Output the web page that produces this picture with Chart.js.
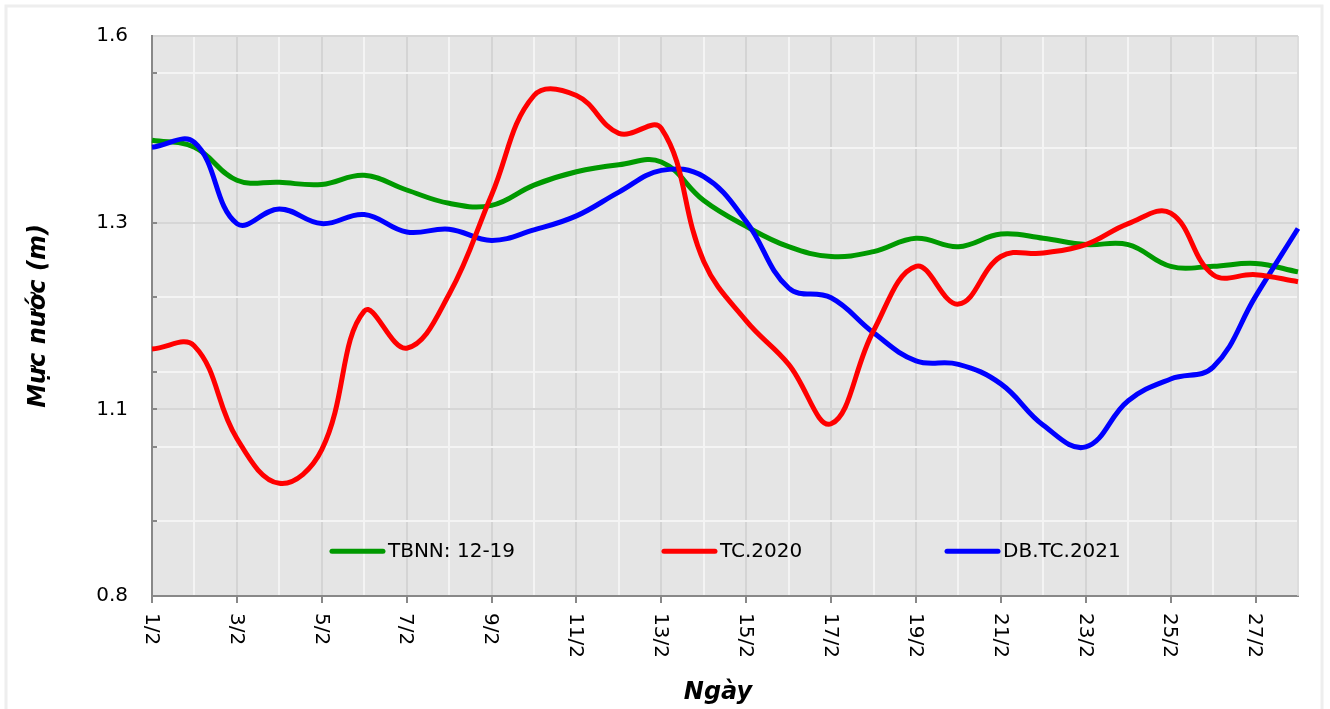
<!DOCTYPE html>
<html lang="vi">
<head>
<meta charset="utf-8">
<title>Mực nước</title>
<script src="https://cdn.jsdelivr.net/npm/chart.js@4.4.1/dist/chart.umd.min.js"></script>
<style>
    html, body { margin: 0; padding: 0; background: #fff; }
    #wrap { width: 1330px; height: 709px; }
</style>
</head>
<body>
<div id="wrap"><canvas id="waterChart" width="1330" height="709"></canvas></div>
<script>
const days = ['1/2', '2/2', '3/2', '4/2', '5/2', '6/2', '7/2', '8/2', '9/2', '10/2',
    '11/2', '12/2', '13/2', '14/2', '15/2', '16/2', '17/2', '18/2', '19/2', '20/2',
    '21/2', '22/2', '23/2', '24/2', '25/2', '26/2', '27/2', '28/2'];

const tbnn = [1.451, 1.441, 1.394, 1.391, 1.388, 1.401, 1.380, 1.361, 1.358, 1.387,
    1.406, 1.416, 1.420, 1.365, 1.328, 1.299, 1.285, 1.292, 1.311, 1.299,
    1.317, 1.311, 1.302, 1.302, 1.271, 1.271, 1.275, 1.263];

const tc2020 = [1.153, 1.157, 1.025, 0.961, 1.009, 1.207, 1.154, 1.231, 1.373, 1.515,
    1.515, 1.461, 1.468, 1.278, 1.193, 1.131, 1.046, 1.179, 1.271, 1.217,
    1.285, 1.290, 1.302, 1.332, 1.347, 1.259, 1.259, 1.249];

const dbtc2021 = [1.441, 1.448, 1.332, 1.353, 1.332, 1.345, 1.320, 1.324, 1.308, 1.323,
    1.343, 1.377, 1.408, 1.399, 1.335, 1.240, 1.226, 1.176, 1.136, 1.131,
    1.103, 1.044, 1.013, 1.079, 1.110, 1.127, 1.228, 1.325];

const seriesNames = ['TBNN: 12-19', 'TC.2020', 'DB.TC.2021'];
const seriesColors = ['#009900', '#ff0000', '#0000ff'];

// labelled y ticks and the lighter in-between grid steps
const yTickValues = [0.8, 1.0667, 1.3333, 1.6];
const yTickLabels = ['0.8', '1.1', '1.3', '1.6'];
const yMinorValues = [0.9067, 1.0133, 1.12, 1.2267, 1.44, 1.5467];

const FONT = "'DejaVu Sans', Verdana, sans-serif";

function isMajorY(v) {
    return yTickValues.some(t => Math.abs(t - v) < 1e-6);
}

const decorations = {
    id: 'decorations',
    beforeDraw(chart) {
        const ctx = chart.ctx;
        const a = chart.chartArea;
        ctx.save();
        ctx.strokeStyle = '#eeeeee';
        ctx.lineWidth = 3;
        ctx.strokeRect(6, 6, 1316, 712);
        ctx.fillStyle = '#e5e5e5';
        ctx.fillRect(a.left, a.top, a.right - a.left, a.bottom - a.top);
        ctx.restore();
    },
    beforeDatasetsDraw(chart) {
        const ctx = chart.ctx;
        const a = chart.chartArea;
        const y = chart.scales.y;
        ctx.save();
        // right edge of the plot
        ctx.strokeStyle = '#d6d6d6';
        ctx.lineWidth = 1.5;
        ctx.beginPath();
        ctx.moveTo(a.right, a.top);
        ctx.lineTo(a.right, a.bottom);
        ctx.stroke();
        // short marks on the inside of the y axis
        ctx.strokeStyle = '#888888';
        ctx.lineWidth = 2;
        yMinorValues.concat(yTickValues.slice(1, -1)).forEach(v => {
            const py = Math.round(y.getPixelForValue(v));
            ctx.beginPath();
            ctx.moveTo(a.left, py);
            ctx.lineTo(a.left + 5, py);
            ctx.stroke();
        });
        ctx.restore();
    },
    afterDraw(chart) {
        const ctx = chart.ctx;
        const a = chart.chartArea;
        const x = chart.scales.x;
        ctx.save();
        ctx.fillStyle = '#000';

        // day labels, turned to read downwards
        ctx.font = '20px ' + FONT;
        ctx.textAlign = 'left';
        ctx.textBaseline = 'middle';
        days.forEach((d, i) => {
            if (i % 2 !== 0) return;
            const px = x.getPixelForTick(i);
            ctx.save();
            ctx.translate(px, a.bottom + 17);
            ctx.rotate(Math.PI / 2);
            ctx.fillText(d, 0, 1);
            ctx.restore();
        });

        // axis titles
        ctx.font = 'italic bold 24px ' + FONT;
        ctx.textAlign = 'center';
        ctx.textBaseline = 'middle';
        ctx.fillText('Ngày', (a.left + a.right) / 2 - 7, 693);
        ctx.save();
        ctx.translate(39, (a.top + a.bottom) / 2);
        ctx.rotate(-Math.PI / 2);
        ctx.fillText('Mực nước (m)', 0, 0);
        ctx.restore();

        // legend inside the plot
        const w = a.right - a.left;
        const ly = a.top + (a.bottom - a.top) * 0.92;
        const starts = [0.1553, 0.445, 0.692];
        ctx.font = '20px ' + FONT;
        ctx.textAlign = 'left';
        ctx.lineCap = 'round';
        ctx.lineWidth = 5;
        seriesNames.forEach((name, i) => {
            const lx = a.left + w * starts[i];
            ctx.strokeStyle = seriesColors[i];
            ctx.beginPath();
            ctx.moveTo(lx + 2, ly);
            ctx.lineTo(lx + 53, ly);
            ctx.stroke();
            ctx.fillText(name, lx + 58, ly + 1);
        });
        ctx.restore();
    }
};

const chart = new Chart(document.getElementById('waterChart'), {
    type: 'line',
    data: {
        labels: days,
        datasets: [
            { label: seriesNames[0], data: tbnn, borderColor: seriesColors[0], order: 2 },
            { label: seriesNames[1], data: tc2020, borderColor: seriesColors[1], order: 0 },
            { label: seriesNames[2], data: dbtc2021, borderColor: seriesColors[2], order: 1 }
        ]
    },
    options: {
        responsive: false,
        animation: false,
        devicePixelRatio: 1,
        layout: { padding: { top: 33, right: 32, left: 0, bottom: 0 } },
        elements: {
            line: { borderWidth: 5, tension: 0.4, fill: false, capBezierPoints: true },
            point: { radius: 0, hoverRadius: 0 }
        },
        plugins: {
            legend: { display: false },
            tooltip: { enabled: false },
            title: { display: false }
        },
        scales: {
            x: {
                offset: false,
                afterFit(scale) { scale.height = 113; },
                ticks: { display: false },
                grid: {
                    color: ctx => ctx.index % 2 === 0 ? '#d4d4d4' : '#f4f4f4',
                    lineWidth: 2,
                    drawTicks: true,
                    tickLength: 7,
                    tickWidth: 2,
                    tickColor: ctx => ctx.index % 2 === 0 ? '#888888' : 'rgba(0,0,0,0)'
                },
                border: { display: true, color: '#888888', width: 2 }
            },
            y: {
                min: 0.8,
                max: 1.6,
                afterFit(scale) { scale.width = 152; },
                afterBuildTicks(scale) {
                    const all = yTickValues.concat(yMinorValues).sort((p, q) => p - q);
                    scale.ticks = all.map(v => ({ value: v }));
                },
                ticks: {
                    autoSkip: false,
                    padding: 24,
                    color: '#000',
                    font: { family: FONT, size: 20 },
                    callback(value) {
                        const i = yTickValues.findIndex(t => Math.abs(t - value) < 1e-6);
                        return i >= 0 ? yTickLabels[i] : '';
                    }
                },
                grid: {
                    color: ctx => isMajorY(ctx.tick.value) ? '#d6d6d6' : '#f4f4f4',
                    lineWidth: 2,
                    drawTicks: false
                },
                border: { display: true, color: '#888888', width: 2 }
            }
        }
    },
    plugins: [decorations]
});
</script>
</body>
</html>
